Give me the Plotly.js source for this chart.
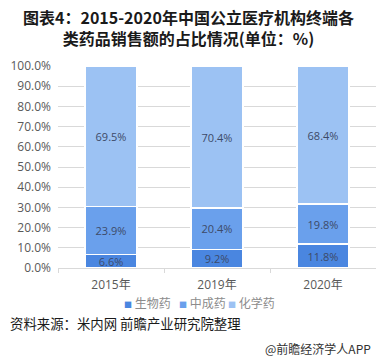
<!DOCTYPE html>
<html><head><meta charset="utf-8">
<script src="https://cdn.plot.ly/plotly-3.0.1.min.js"></script>
<style>html,body{margin:0;padding:0;background:#fff}#c{width:376px;height:362px}</style>
</head><body><div id="c"></div>
<script>
var categories = ['2015年', '2019年', '2020年'];
var seriesNames = ['生物药', '中成药', '化学药'];
var bio = [6.6, 9.2, 11.8];
var tcm = [23.9, 20.4, 19.8];
var chem = [69.5, 70.4, 68.4];
var colors = ['#4a86e0', '#6aa0ec', '#9cc2f3'];
var values = [bio, tcm, chem];

var traces = values.map(function(v, i){
  return {
    type: 'bar', name: seriesNames[i], x: categories, y: v,
    text: v.map(function(d){return d.toFixed(1)+'%';}),
    textposition: 'inside', insidetextanchor: 'middle', constraintext: 'none',
    textfont: {family: 'Open Sans, Noto Sans CJK SC', size: 11, color: '#3d4a68'},
    marker: {color: colors[i], line: {color: '#ffffff', width: 1.5}},
    showlegend: false, hoverinfo: 'none'
  };
});

var legendX = [0.2, 0.374, 0.528];
var legendAnn = seriesNames.map(function(n, i){
  return {text: '<span style="color:' + colors[i] + ';font-size:8px">■</span> ' + n,
    xref: 'paper', yref: 'paper', x: legendX[i], y: 0, xanchor: 'left', yanchor: 'middle',
    yshift: -34, showarrow: false, font: {family: 'Noto Sans CJK SC', size: 12, color: '#8c8c8c'}};
});

var layout = {
  width: 376, height: 362,
  margin: {l: 58, r: 0, t: 66, b: 94},
  barmode: 'stack', bargap: 0.51,
  paper_bgcolor: '#fff', plot_bgcolor: '#fff',
  showlegend: false,
  xaxis: {showline: true, linecolor: '#d9d9d9', ticks: 'outside', tickson: 'boundaries', ticklen: 4,
    tickcolor: '#d9d9d9', ticklabelstandoff: 6,
    tickfont: {family: 'Open Sans, Noto Sans CJK SC', size: 12, color: '#595959'}},
  yaxis: {range: [0, 100], dtick: 10, tickformat: '.1f', ticksuffix: '%', showgrid: true, gridcolor: '#d9d9d9',
    zeroline: false, ticklabelstandoff: 6, tickfont: {family: 'Open Sans', size: 12, color: '#595959'}},
  annotations: [
    {text: '<b>图表4：2015-2020年中国公立医疗机构终端各<br>类药品销售额的占比情况(单位：%)</b>',
      xref: 'paper', yref: 'paper', x: 0.41, y: 1, xanchor: 'center', yanchor: 'middle', yshift: 39,
      showarrow: false, align: 'center',
      font: {family: 'Noto Sans CJK SC', size: 16, color: '#1a1a1a'}},
    {text: '资料来源：米内网 前瞻产业研究院整理', xref: 'paper', yref: 'paper', x: -0.157, y: 0,
      xanchor: 'left', yanchor: 'middle', yshift: -55, showarrow: false,
      font: {family: 'Noto Sans CJK SC', size: 13.4, color: '#1a1a1a'}},
    {text: '@前瞻经济学人APP', xref: 'paper', yref: 'paper', x: 0.99, y: 0, xanchor: 'right', yanchor: 'middle',
      yshift: -80, showarrow: false, font: {family: 'Noto Sans CJK SC', size: 12, color: '#333'}}
  ].concat(legendAnn)
};
Plotly.newPlot('c', traces, layout, {displayModeBar: false, staticPlot: true});
</script></body></html>
